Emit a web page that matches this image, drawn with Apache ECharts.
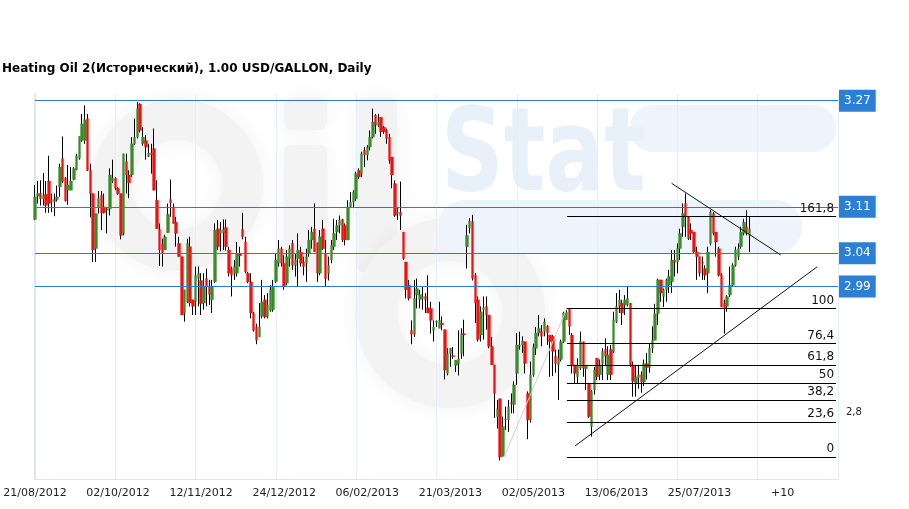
<!DOCTYPE html>
<html><head><meta charset="utf-8">
<script src="https://cdn.jsdelivr.net/npm/echarts@6/dist/echarts.min.js"></script>
<style>html,body{margin:0;padding:0;background:#fff}#c{width:909px;height:509px}</style>
</head><body><div id="c"></div>
<script>
const chartTitle = 'Heating Oil 2(Исторический), 1.00 USD/GALLON, Daily';
const tickLabels = ['21/08/2012','02/10/2012','12/11/2012','24/12/2012','06/02/2013','21/03/2013','02/05/2013','13/06/2013','25/07/2013','+10'];
const barsPerLabel = 30;
const gridEvery = 29;
const slotCount = 291;
// [open, close, low, high]
const ohlc = [
[3.091,3.125,3.090,3.143],[3.126,3.130,3.115,3.149],[3.130,3.122,3.112,3.150],[3.122,3.127,3.112,3.161],[3.129,3.112,3.101,3.149],
[3.149,3.115,3.101,3.187],[3.118,3.121,3.102,3.130],[3.121,3.118,3.096,3.130],[3.121,3.125,3.118,3.142],[3.140,3.170,3.125,3.175],
[3.183,3.148,3.146,3.216],[3.153,3.119,3.118,3.155],[3.135,3.143,3.113,3.173],[3.135,3.149,3.135,3.170],[3.151,3.168,3.150,3.170],
[3.166,3.187,3.165,3.190],[3.183,3.216,3.181,3.216],[3.210,3.235,3.208,3.250],[3.210,3.241,3.205,3.263],[3.243,3.165,3.164,3.250],
[3.165,3.130,3.094,3.175],[3.130,3.045,3.027,3.130],[3.047,3.100,3.027,3.100],[3.110,3.123,3.100,3.134],[3.127,3.101,3.075,3.134],
[3.110,3.101,3.100,3.130],[3.105,3.107,3.070,3.110],[3.107,3.158,3.097,3.168],[3.149,3.153,3.146,3.181],[3.153,3.138,3.135,3.155],
[3.138,3.130,3.128,3.140],[3.130,3.067,3.061,3.130],[3.070,3.190,3.067,3.190],
[3.178,3.158,3.130,3.190],[3.158,3.146,3.123,3.165],[3.158,3.205,3.155,3.215],[3.205,3.215,3.203,3.243],[3.215,3.258,3.213,3.268],
[3.265,3.225,3.222,3.266],[3.205,3.215,3.202,3.230],[3.210,3.200,3.181,3.218],[3.186,3.191,3.185,3.205],[3.191,3.188,3.160,3.205],
[3.198,3.135,3.135,3.228],[3.120,3.077,3.077,3.150],[3.076,3.045,3.021,3.085],[3.054,3.041,3.020,3.062],[3.045,3.065,3.045,3.068],
[3.071,3.099,3.071,3.115],[3.121,3.116,3.095,3.151],[3.110,3.085,3.085,3.115],[3.087,3.070,3.050,3.095],[3.055,3.035,3.035,3.065],
[3.035,2.947,2.947,3.035],[2.950,2.985,2.937,2.985],[2.967,3.055,2.965,3.062],[3.050,2.965,2.960,3.065],[2.970,2.960,2.947,2.970],
[2.967,3.007,2.947,3.020],[3.002,3.010,2.960,3.020],[2.999,2.964,2.947,3.010],[2.965,2.990,2.955,3.010],[3.002,2.990,2.960,3.017],
[2.990,2.978,2.962,3.000],[2.970,2.990,2.950,3.000],
[2.997,3.075,2.995,3.085],[3.077,3.050,3.045,3.090],[3.070,3.075,3.043,3.087],[3.071,3.076,3.045,3.091],[3.079,3.050,3.044,3.091],
[3.045,3.010,3.005,3.050],[3.017,3.007,2.975,3.020],[3.010,3.020,3.000,3.030],[3.010,3.040,3.005,3.057],[3.040,3.036,3.020,3.050],
[3.076,3.065,3.061,3.101],[3.057,3.012,3.010,3.065],[3.010,2.997,2.995,3.012],[2.997,2.950,2.942,3.010],[2.950,2.924,2.922,2.952],
[2.929,2.909,2.903,2.934],[2.914,2.929,2.914,2.965],[2.945,2.967,2.942,3.000],[2.970,2.944,2.942,2.977],[2.945,2.962,2.942,2.980],
[2.954,2.985,2.952,2.992],[2.955,2.990,2.952,3.000],[2.997,3.030,2.995,3.040],[3.025,3.047,3.020,3.060],[3.047,3.025,3.020,3.050],
[3.025,2.990,2.985,3.037],[2.995,3.035,2.992,3.045],[3.032,3.047,3.020,3.052],[3.055,3.022,3.015,3.060],[3.022,3.030,3.005,3.040],
[3.032,3.045,2.990,3.070],[3.042,3.025,3.020,3.050],[3.027,3.020,3.007,3.035],
[3.025,3.035,2.997,3.047],[3.040,3.060,3.035,3.075],[3.060,3.072,3.047,3.080],[3.077,3.042,3.042,3.115],[3.056,3.010,2.997,3.056],
[3.010,3.065,3.007,3.075],[3.077,3.047,3.045,3.090],[3.040,3.002,2.990,3.060],[3.010,3.022,2.999,3.035],[3.030,3.052,3.025,3.060],
[3.050,3.070,3.045,3.092],[3.072,3.082,3.060,3.090],[3.082,3.090,3.070,3.097],[3.091,3.060,3.057,3.092],[3.082,3.060,3.052,3.085],
[3.060,3.110,3.060,3.120],[3.110,3.117,3.108,3.132],[3.117,3.132,3.108,3.135],[3.122,3.160,3.119,3.163],[3.165,3.155,3.152,3.168],
[3.160,3.190,3.155,3.193],[3.195,3.188,3.170,3.200],[3.188,3.200,3.180,3.203],[3.200,3.215,3.195,3.225],[3.215,3.238,3.213,3.258],
[3.248,3.233,3.220,3.250],[3.233,3.238,3.230,3.250],[3.245,3.223,3.215,3.245],[3.230,3.223,3.220,3.232],[3.225,3.213,3.205,3.228],
[3.215,3.180,3.175,3.220],[3.185,3.158,3.138,3.185],[3.145,3.097,3.095,3.150],
[3.100,3.102,3.090,3.110],[3.102,3.097,3.075,3.148],[3.072,3.032,3.030,3.072],[3.027,2.985,2.972,3.027],[2.992,2.972,2.969,3.000],
[2.924,2.918,2.903,2.939],[2.918,2.972,2.914,3.000],[2.977,2.987,2.957,3.002],[2.970,2.978,2.957,2.985],[2.972,2.975,2.955,2.990],
[2.975,2.970,2.950,2.980],[2.958,2.950,2.950,3.007],[2.957,2.939,2.919,2.967],[2.924,2.929,2.907,2.939],[2.936,2.938,2.929,2.939],
[2.927,2.939,2.927,2.967],[2.935,2.932,2.924,2.945],[2.925,2.864,2.850,2.925],[2.859,2.889,2.856,2.897],[2.889,2.897,2.869,2.897],
[2.886,2.884,2.881,2.899],[2.871,2.879,2.861,2.879],[2.874,2.881,2.856,2.924],[2.889,2.919,2.881,2.927],[2.919,2.917,2.885,2.940],
[3.050,3.067,3.017,3.083],[3.078,3.088,3.070,3.093],[3.088,3.002,2.999,3.098],[3.007,2.965,2.935,3.010],[2.970,2.910,2.907,2.975],
[2.917,2.952,2.907,2.960],[2.955,2.958,2.910,2.975],[2.960,2.947,2.925,2.975],[2.947,2.900,2.897,2.947],[2.900,2.872,2.872,2.914],
[2.872,2.829,2.792,2.872],[2.794,2.806,2.776,2.819],[2.821,2.733,2.728,2.821],[2.734,2.779,2.734,2.794],[2.790,2.789,2.774,2.809],
[2.789,2.809,2.771,2.819],[2.815,2.813,2.799,2.829],[2.812,2.842,2.799,2.847],[2.859,2.902,2.842,2.920],[2.900,2.902,2.895,2.922],
[2.902,2.908,2.890,2.915],[2.907,2.874,2.859,2.907],[2.829,2.789,2.760,2.832],[2.789,2.857,2.785,2.877],[2.857,2.899,2.854,2.904],
[2.897,2.920,2.887,2.929],[2.920,2.927,2.915,2.947],[2.922,2.915,2.900,2.932],[2.922,2.937,2.915,2.942],[2.930,2.920,2.902,2.932],
[2.917,2.907,2.854,2.917],
[2.915,2.892,2.855,2.917],[2.885,2.874,2.860,2.895],[2.872,2.882,2.819,2.895],[2.880,2.907,2.877,2.910],[2.907,2.950,2.905,2.952],
[2.940,2.951,2.940,2.957],[2.956,2.930,2.917,2.957],[2.917,2.872,2.859,2.920],[2.872,2.859,2.844,2.872],[2.854,2.872,2.844,2.882],
[2.867,2.907,2.864,2.922],[2.907,2.867,2.854,2.907],[2.866,2.870,2.834,2.872],[2.844,2.794,2.792,2.844],[2.779,2.832,2.764,2.834],
[2.834,2.864,2.827,2.869],[2.882,2.854,2.849,2.882],[2.857,2.872,2.849,2.880],[2.874,2.892,2.849,2.897],[2.895,2.885,2.870,2.912],
[2.857,2.887,2.849,2.900],[2.895,2.857,2.849,2.902],[2.892,2.940,2.890,2.952],[2.937,2.960,2.935,2.980],[2.960,2.970,2.950,2.985],
[2.965,2.950,2.932,2.970],[2.962,2.970,2.947,2.977],[2.962,2.972,2.960,2.990],[2.965,2.872,2.869,2.965],[2.872,2.847,2.824,2.877],
[2.844,2.854,2.824,2.870],[2.852,2.857,2.836,2.872],[2.857,2.846,2.830,2.862],[2.846,2.874,2.840,2.880],
[2.874,2.868,2.850,2.890],[2.868,2.897,2.860,2.905],[2.897,2.909,2.890,2.930],
[2.909,2.949,2.909,2.964],[2.949,3.000,2.932,3.002],[3.000,2.980,2.967,3.000],[2.975,2.985,2.959,2.987],[2.985,3.000,2.967,3.002],
[2.992,3.005,2.980,3.015],[2.997,3.030,2.980,3.045],[3.030,3.026,3.005,3.045],[3.027,3.047,3.010,3.055],[3.047,3.070,3.030,3.077],
[3.080,3.100,3.065,3.115],[3.115,3.095,3.065,3.130],[3.095,3.062,3.060,3.095],[3.075,3.070,3.060,3.085],[3.072,3.042,3.040,3.072],
[3.042,3.035,3.000,3.050],[3.035,3.010,3.005,3.035],[3.027,3.025,3.000,3.035],[3.017,3.007,3.000,3.022],[3.010,3.042,2.980,3.050],
[3.055,3.102,3.052,3.105],[3.100,3.070,3.067,3.102],[3.072,3.057,3.035,3.072],[3.047,3.007,3.005,3.050],[3.007,2.959,2.959,3.010],
[2.965,2.957,2.919,2.970],[2.960,2.975,2.952,2.977],[2.977,2.992,2.974,3.020],[2.992,3.022,2.990,3.025],[3.022,3.045,3.020,3.050],
[3.035,3.047,3.030,3.055],[3.050,3.072,3.047,3.080],[3.070,3.087,3.067,3.092],[3.080,3.072,3.067,3.105],[3.067,3.077,3.042,3.095]
];
const levelValues = [3.27, 3.108, 3.0385, 2.9925];
const levelLabels = ['3.27', '3.11', '3.04', '2.99'];
const fibLow = 2.733, fibHigh = 2.957;
const fibLevels = [0, 23.6, 38.2, 50, 61.8, 76.4, 100, 161.8];
const fibSpan = [192.1, 289.3];
const trendDown = [[229.9, 3.1455], [269.3, 3.0375]];
const trendUp = [[195.0, 2.7497], [282.5, 3.0198]];
const fibSwing = [[169.4, fibLow], [192.1, fibHigh]];
const yTick = 2.8;

const FONT = '"DejaVu Sans", Verdana, sans-serif';
const categories = Array.from({length: slotCount}, (_, i) => String(i));
const wickData = ohlc.map(r => [r[0], r[1], r[2], r[3]]);
const bodyData = ohlc.map(r => [r[0], r[1], Math.min(r[0], r[1]), Math.max(r[0], r[1])]);
const fmtComma = v => String(v).replace('.', ',');

const chart = echarts.init(document.getElementById('c'), null, {renderer: 'canvas'});
const gray = '#f3f3f3', blue1 = '#e8f0f9', blue2 = '#eef4fb';
const soft = {shadowBlur: 22, shadowColor: 'rgba(0,0,0,0.05)'};
chart.setOption({
  animation: false,
  backgroundColor: '#fff',
  title: {text: chartTitle, left: 2, top: 63, padding: 0,
    textStyle: {fontFamily: FONT, fontSize: 12, fontWeight: 'bold', color: '#000'}},
  graphic: {elements: [
    {type: 'ring', z: -10, shape: {cx: 177, cy: 185, r: 86, r0: 45}, style: Object.assign({fill: gray}, soft)},
    {type: 'rect', z: -10, shape: {x: 284, y: 145, width: 43, height: 127, r: 6}, style: Object.assign({fill: gray}, soft)},
    {type: 'rect', z: -10, shape: {x: 284, y: 98, width: 43, height: 32, r: 8}, style: Object.assign({fill: gray}, soft)},
    {type: 'rect', z: -10, shape: {x: 357, y: 98, width: 40, height: 174, r: 6}, style: Object.assign({fill: gray}, soft)},
    {type: 'ring', z: -10, shape: {cx: 450, cy: 313, r: 95, r0: 52}, style: Object.assign({fill: gray}, soft)},
    {type: 'rect', z: -9, shape: {x: 630, y: 105, width: 206, height: 47, r: 23}, style: {fill: blue2}},
    {type: 'rect', z: -9, shape: {x: 438, y: 200, width: 364, height: 53, r: 26}, style: {fill: blue2}},
    {type: 'text', z: -8, x: 441, y: 102, scaleX: 0.75, style: {text: 'Stat', font: 'bold 116px ' + FONT, fill: blue1}}
  ]},
  grid: {left: 35, right: 71, top: 94, bottom: 30, outerBoundsMode: 'none'},
  xAxis: [{
    type: 'category', data: categories, boundaryGap: false,
    axisLine: {show: true, lineStyle: {color: '#dbe6f2'}},
    axisTick: {show: false},
    axisLabel: {interval: i => i % barsPerLabel === 0 && i / barsPerLabel < tickLabels.length,
      formatter: (v, i) => tickLabels[i / barsPerLabel] || '',
      fontFamily: FONT, fontSize: 11, color: '#222', margin: 9},
    splitLine: {show: true, interval: i => i % gridEvery === 0, lineStyle: {color: '#e5edf7', width: 1}}
  }, {
    type: 'value', min: 0, max: slotCount - 1, show: false
  }],
  yAxis: {
    type: 'value', position: 'right', min: 2.70, max: 3.28, interval: 0.1,
    axisLine: {show: true, lineStyle: {color: '#dbe6f2', width: 2}},
    axisTick: {show: false}, splitLine: {show: false},
    axisLabel: {formatter: v => Math.abs(v - yTick) < 1e-6 ? fmtComma(yTick) : '',
      fontFamily: FONT, fontSize: 10, color: '#222', margin: 8}
  },
  series: [
    {type: 'candlestick', name: 'wick', data: wickData, barWidth: 1, z: 2,
      itemStyle: {color: '#000', color0: '#000', borderColor: '#000', borderColor0: '#000', borderWidth: 1},
      markLine: {silent: true, symbol: 'none', animation: false,
        lineStyle: {color: '#2a7ad2', width: 1, type: 'solid'},
        label: {position: 'end', distance: 1, color: '#fff', backgroundColor: '#2b80d5',
          fontFamily: FONT, fontSize: 12, padding: [5, 5, 4, 5], lineHeight: 13},
        data: levelValues.map((v, i) => ({yAxis: v, label: {formatter: levelLabels[i]}}))}
    },
    {type: 'candlestick', name: 'body', data: bodyData, barWidth: 3, z: 3,
      itemStyle: {color: '#3b8b2b', color0: '#f20f0f', borderColor: '#3b8b2b', borderColor0: '#f20f0f', borderWidth: 0.3}
    },
    {type: 'line', name: 'fib', xAxisIndex: 1, data: [], z: 4,
      markLine: {silent: true, symbol: 'none', animation: false,
        lineStyle: {color: '#000', width: 1, type: 'solid'},
        label: {position: 'insideEndTop', distance: [2, 2], color: '#111', fontFamily: FONT, fontSize: 12},
        data: fibLevels.map(l => {
          const v = fibLow + (fibHigh - fibLow) * l / 100;
          return [{coord: [fibSpan[0], v], label: {formatter: fmtComma(l)}}, {coord: [fibSpan[1], v]}];
        })}
    },
    {type: 'line', name: 'swing', xAxisIndex: 1, data: fibSwing, symbol: 'none', z: 4,
      lineStyle: {color: '#cfcfcf', width: 1}},
    {type: 'line', name: 'down', xAxisIndex: 1, data: trendDown, symbol: 'none', z: 5,
      lineStyle: {color: '#111', width: 1}},
    {type: 'line', name: 'up', xAxisIndex: 1, data: trendUp, symbol: 'none', z: 5,
      lineStyle: {color: '#111', width: 1}}
  ]
});
</script></body></html>
